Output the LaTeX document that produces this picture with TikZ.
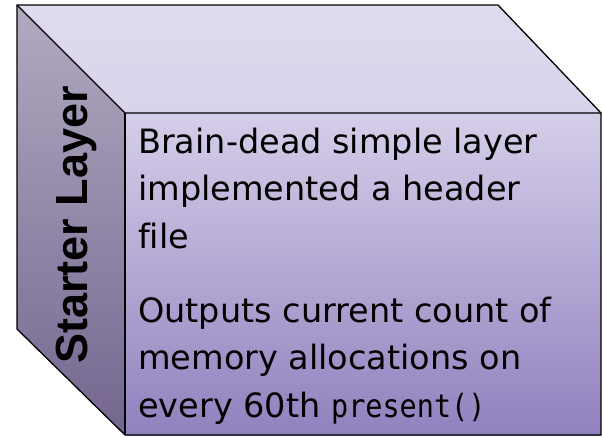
\documentclass[tikz,border=0pt]{standalone}
\usepackage{fontspec}
\newfontfamily\bodyfont[Ligatures=NoCommon]{DejaVu Sans}
\newfontfamily\codefont[FakeStretch=0.89]{DejaVu Sans Mono}
\newfontfamily\sidefont{Liberation Sans}
\definecolor{topA}{HTML}{DFDBEF}
\definecolor{topB}{HTML}{D9D3EB}
\definecolor{sideA}{HTML}{B1AAC1}
\definecolor{sideB}{HTML}{74668F}
\definecolor{frontA}{HTML}{D5CEE9}
\definecolor{frontB}{HTML}{9181BE}
\begin{document}
\begin{tikzpicture}[x=1pt,y=-1pt,
  edge/.style={draw=black,line width=1.3pt,line join=miter},
  bodytext/.style={anchor=base west,inner sep=0pt,font=\bodyfont\fontsize{33.5}{47.5}\selectfont},
  sidetext/.style={anchor=base,inner sep=0pt,rotate=90,font=\sidefont\bfseries\fontsize{45}{54}\selectfont}]
\useasboundingbox (0,0) rectangle (603,437);
% corners of the block
\coordinate (btl) at (17,5);
\coordinate (btr) at (498,5);
\coordinate (bbl) at (17,329);
\coordinate (ftl) at (125,113);
\coordinate (ftr) at (601,113);
\coordinate (fbl) at (125,435);
\coordinate (fbr) at (601,435);
% faces
\shade[top color=topA,bottom color=topB] (btl) -- (btr) -- (ftr) -- (ftl) -- cycle;
\shade[top color=sideA,bottom color=sideB] (btl) -- (ftl) -- (fbl) -- (bbl) -- cycle;
\shade[top color=frontA,bottom color=frontB] (ftl) rectangle (fbr);
% edges
\draw[edge] (btl) -- (btr) -- (ftr) -- (fbr) -- (fbl) -- (bbl) -- cycle;
\draw[edge] (btl) -- (ftl) -- (ftr);
\draw[edge] (ftl) -- (fbl);
% labels
\node[sidetext] (side) at (87,225) {Starter Layer};
\node[bodytext] (p1) at (138,153) {\parbox[t]{455pt}{\raggedright
  Brain-dead simple layer\\implemented a header\\file}};
\node[bodytext] (p2) at (138,322) {\parbox[t]{455pt}{\raggedright
  Outputs current count of\\memory allocations on\\every 60th {\codefont\fontsize{32}{47.5}\selectfont present()}}};
\end{tikzpicture}
\end{document}
